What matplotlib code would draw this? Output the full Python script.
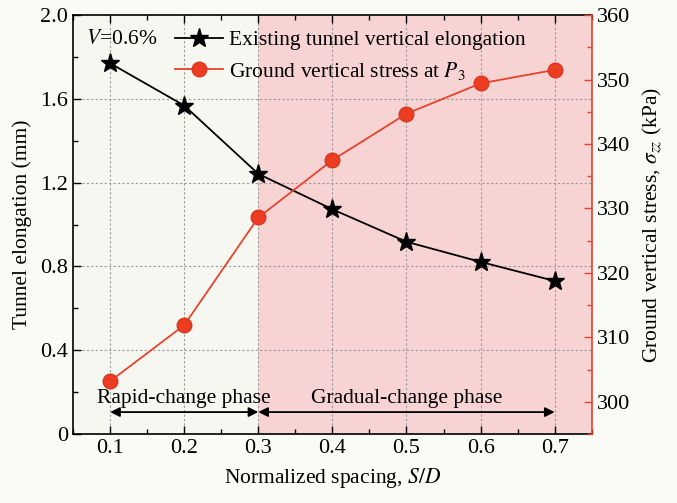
import matplotlib
matplotlib.use("Agg")
import matplotlib.pyplot as plt
from matplotlib.ticker import MultipleLocator

plt.rcParams['font.family'] = ['Liberation Serif', 'DejaVu Serif']
plt.rcParams['mathtext.fontset'] = 'stix'
plt.rcParams['font.size'] = 15

# Data
spacing = [0.1, 0.2, 0.3, 0.4, 0.5, 0.6, 0.7]
elongation = [1.770, 1.568, 1.242, 1.073, 0.918, 0.822, 0.731]
stress = [303.2, 311.9, 328.6, 337.5, 344.7, 349.4, 351.5]
x_ticks = [0.1, 0.2, 0.3, 0.4, 0.5, 0.6, 0.7]
y_left_ticks = [0, 0.4, 0.8, 1.2, 1.6, 2.0]
y_left_labels = ['0', '0.4', '0.8', '1.2', '1.6', '2.0']
y_right_ticks = [300, 310, 320, 330, 340, 350, 360]
phase_split = 0.3

RED = '#e4442b'
BG = '#fafaf6'
FS = 15.5

fig = plt.figure(figsize=(6.77, 5.03), dpi=100, facecolor=BG)
ax = fig.add_axes([0.108, 0.137, 0.766, 0.833])
ax.set_facecolor('#f7f7f2')
ax2 = ax.twinx()
ax2.patch.set_visible(False)

ax.set_xlim(0.05, 0.75)
ax.set_ylim(0, 2.0)
ax2.set_ylim(295, 360)

# Phase shading
ax.axvspan(phase_split, 0.75, color='#f8d3d3', zorder=0, lw=0)

# Grid
for xv in x_ticks:
    ax.axvline(xv, color='#9a9a9a', ls=(0, (2, 2)), lw=0.8, zorder=1)
for yv in y_left_ticks[1:-1]:
    ax.axhline(yv, color='#9a9a9a', ls=(0, (2, 2)), lw=0.8, zorder=1)

# Series
l1, = ax.plot(spacing, elongation, color='black', lw=1.3, marker='*',
              markersize=14, markerfacecolor='black', markeredgecolor='black',
              zorder=3, label='Existing tunnel vertical elongation')
l2, = ax2.plot(spacing, stress, color=RED, lw=1.3, marker='o',
               markersize=10.5, markerfacecolor='#ec3d22', markeredgecolor='#d8381f',
               zorder=3, label='Ground vertical stress at $P_3$')

# Axes formatting
ax.set_xticks(x_ticks)
ax.set_xticklabels([f'{v:.1f}' for v in x_ticks])
ax.xaxis.set_minor_locator(MultipleLocator(0.05))
ax.set_yticks(y_left_ticks)
ax.set_yticklabels(y_left_labels)
ax.yaxis.set_minor_locator(MultipleLocator(0.2))
ax.tick_params(which='both', direction='in', top=True, right=False, labelsize=16)
ax.tick_params(which='major', length=6, width=1)
ax.tick_params(which='minor', length=3.5, width=1)

ax2.set_yticks(y_right_ticks)
ax2.yaxis.set_minor_locator(MultipleLocator(5))
ax2.tick_params(which='both', direction='in', colors=RED, labelcolor='black', labelsize=16)
ax2.tick_params(which='major', length=6, width=1)
ax2.tick_params(which='minor', length=3.5, width=1)
ax2.spines['right'].set_color(RED)
ax2.spines['right'].set_linewidth(1.2)
for s in ['left', 'top', 'bottom']:
    ax.spines[s].set_linewidth(1.2)
    ax2.spines[s].set_visible(False)
ax.spines['right'].set_visible(False)

ax.set_xlabel('Normalized spacing, $\\it{S/D}$', fontsize=FS, labelpad=6)
ax.set_ylabel('Tunnel elongation (mm)', fontsize=FS, labelpad=6)
ax2.set_ylabel('Ground vertical stress, $\\sigma_{zz}$ (kPa)', fontsize=FS, labelpad=8)

# Annotations
ax.text(0.067, 1.885, '$\\it{V}$=0.6%', fontsize=FS, va='center', ha='left')
ax.annotate('', xy=(0.1, 0.105), xytext=(phase_split, 0.105),
            arrowprops=dict(arrowstyle='<|-|>', color='black', lw=1.3, mutation_scale=14,
                            shrinkA=0, shrinkB=0))
ax.annotate('', xy=(phase_split, 0.105), xytext=(0.7, 0.105),
            arrowprops=dict(arrowstyle='<|-|>', color='black', lw=1.3, mutation_scale=14,
                            shrinkA=0, shrinkB=0))
ax.text(0.2, 0.17, 'Rapid-change phase', fontsize=FS, ha='center', va='center')
ax.text(0.5, 0.17, 'Gradual-change phase', fontsize=FS, ha='center', va='center')

ax2.legend(handles=[l1, l2], loc='upper left', bbox_to_anchor=(0.172, 0.995),
           frameon=False, fontsize=FS, handlelength=2.2, handletextpad=0.3,
           borderaxespad=0.2, labelspacing=0.45)

fig.savefig('out.png', dpi=100, facecolor=BG)
